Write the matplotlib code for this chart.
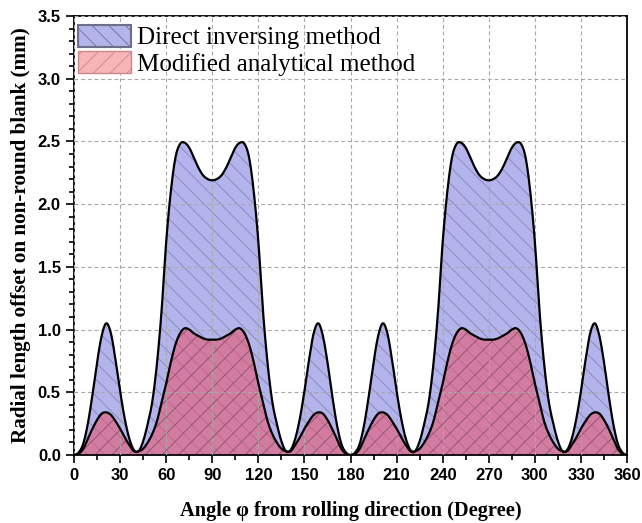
import numpy as np
import matplotlib
matplotlib.use("Agg")
import matplotlib.pyplot as plt
from matplotlib.patches import Patch
from matplotlib.ticker import MultipleLocator

# angle around the blank, 3 degree steps
angle = np.arange(0, 361, 3)

direct = [
    0.00, 0.02, 0.09, 0.25, 0.48, 0.74, 0.95, 1.05, 0.97, 0.76, 0.51, 0.29, 0.13, 0.04, 0.03, 0.11,
    0.25, 0.43, 0.73, 1.15, 1.70, 2.10, 2.37, 2.48, 2.49, 2.45, 2.37, 2.29, 2.23, 2.20, 2.19,
    2.20, 2.23, 2.29, 2.37, 2.45, 2.49, 2.48, 2.37, 2.10, 1.70, 1.15, 0.73, 0.43, 0.25, 0.11,
    0.03, 0.04, 0.13, 0.29, 0.51, 0.76, 0.97, 1.05, 0.95, 0.74, 0.48, 0.25, 0.09, 0.02, 0.00,
    0.02, 0.09, 0.25, 0.48, 0.74, 0.95, 1.05, 0.97, 0.76, 0.51, 0.29, 0.13, 0.04, 0.03, 0.11,
    0.25, 0.43, 0.73, 1.15, 1.70, 2.10, 2.37, 2.48, 2.49, 2.45, 2.37, 2.29, 2.23, 2.20, 2.19,
    2.20, 2.23, 2.29, 2.37, 2.45, 2.49, 2.48, 2.37, 2.10, 1.70, 1.15, 0.73, 0.43, 0.25, 0.11,
    0.03, 0.04, 0.13, 0.29, 0.51, 0.76, 0.97, 1.05, 0.95, 0.74, 0.48, 0.25, 0.09, 0.02, 0.00,
]

modified = [
    0.00, 0.01, 0.05, 0.13, 0.21, 0.28, 0.33, 0.34, 0.32, 0.27, 0.21, 0.14, 0.08, 0.03, 0.03, 0.05,
    0.10, 0.17, 0.27, 0.42, 0.57, 0.74, 0.88, 0.97, 1.01, 1.00, 0.97, 0.95, 0.93, 0.92, 0.92,
    0.92, 0.93, 0.95, 0.97, 1.00, 1.01, 0.97, 0.88, 0.74, 0.57, 0.42, 0.27, 0.17, 0.10, 0.05,
    0.03, 0.03, 0.08, 0.14, 0.21, 0.27, 0.32, 0.34, 0.33, 0.28, 0.21, 0.13, 0.05, 0.01, 0.00,
    0.01, 0.05, 0.13, 0.21, 0.28, 0.33, 0.34, 0.32, 0.27, 0.21, 0.14, 0.08, 0.03, 0.03, 0.05,
    0.10, 0.17, 0.27, 0.42, 0.57, 0.74, 0.88, 0.97, 1.01, 1.00, 0.97, 0.95, 0.93, 0.92, 0.92,
    0.92, 0.93, 0.95, 0.97, 1.00, 1.01, 0.97, 0.88, 0.74, 0.57, 0.42, 0.27, 0.17, 0.10, 0.05,
    0.03, 0.03, 0.08, 0.14, 0.21, 0.27, 0.32, 0.34, 0.33, 0.28, 0.21, 0.13, 0.05, 0.01, 0.00,
]

labels = ["Direct inversing method", "Modified analytical method"]


def smooth(x, y, n=10):
    # Catmull-Rom curve through the points so the outline is drawn round
    x = np.asarray(x, float)
    y = np.asarray(y, float)
    yp = np.concatenate([[y[0]], y, [y[-1]]])
    xs, ys = [], []
    t = np.linspace(0, 1, n, endpoint=False)
    for i in range(len(y) - 1):
        p0, p1, p2, p3 = yp[i], yp[i + 1], yp[i + 2], yp[i + 3]
        seg = 0.5 * (2 * p1 + (-p0 + p2) * t + (2 * p0 - 5 * p1 + 4 * p2 - p3) * t ** 2
                     + (-p0 + 3 * p1 - 3 * p2 + p3) * t ** 3)
        xs.append(x[i] + (x[i + 1] - x[i]) * t)
        ys.append(seg)
    xs.append([x[-1]])
    ys.append([y[-1]])
    return np.concatenate(xs), np.clip(np.concatenate(ys), 0, None)


plt.rcParams["hatch.linewidth"] = 0.6

fig = plt.figure(figsize=(6.42, 5.23), dpi=100)
ax = fig.add_axes([0.1153, 0.130, 0.8614, 0.8394])

xb, yb = smooth(angle, direct)
xr, yr = smooth(angle, modified)

blue = "#b4b4ec"
red = (0.92, 0.31, 0.40, 0.55)

ax.fill_between(xb, 0, yb, facecolor=blue, edgecolor="#8484b8", hatch="\\\\", lw=0, zorder=1)
ax.fill_between(xr, 0, yr, facecolor=red, edgecolor="#8a5068", hatch="//", lw=0, zorder=1.2)
ax.plot(xb, yb, color="black", lw=1.6, zorder=3)
ax.plot(xr, yr, color="black", lw=1.6, zorder=3)

ax.set_xlim(0, 360)
ax.set_ylim(0, 3.5)
ax.xaxis.set_major_locator(MultipleLocator(30))
ax.xaxis.set_minor_locator(MultipleLocator(15))
ax.yaxis.set_major_locator(MultipleLocator(0.5))
ax.yaxis.set_minor_locator(MultipleLocator(0.1))
ax.yaxis.set_major_formatter(plt.FormatStrFormatter("%.1f"))

ax.set_axisbelow(False)
ax.grid(True, which="major", color="#a8a8a8", ls=(0, (3.5, 2.5)), lw=0.8)

ax.tick_params(which="both", direction="out", top=False, right=False, width=1.2)
ax.tick_params(which="major", length=6)
ax.tick_params(which="minor", length=3.5)
for lab in ax.get_xticklabels() + ax.get_yticklabels():
    lab.set_fontfamily("Liberation Sans")
    lab.set_fontweight("bold")
    lab.set_fontsize(12)
for sp in ax.spines.values():
    sp.set_linewidth(1.3)

ax.set_xlabel("Angle \u03c6 from rolling direction (Degree)", fontfamily="Liberation Serif",
              fontweight="bold", fontsize=14.7, labelpad=13)
ax.set_ylabel("Radial length offset on non-round blank (mm)", fontfamily="Liberation Serif",
              fontweight="bold", fontsize=15.2, labelpad=5)

handles = [
    Patch(facecolor=blue, edgecolor="#6e6e8a", hatch="\\\\", lw=1.5),
    Patch(facecolor=(0.97, 0.71, 0.72), edgecolor="#c88888", hatch="//", lw=1.0),
]
ax.legend(handles, labels, loc="upper left", frameon=False, bbox_to_anchor=(-0.008, 1.0),
          prop={"family": "Liberation Serif", "size": 18}, handlelength=2.1,
          handleheight=0.98, labelspacing=0.07, handletextpad=0.25, borderaxespad=0.1,
          borderpad=0.25)

fig.savefig("out.png", dpi=100)
